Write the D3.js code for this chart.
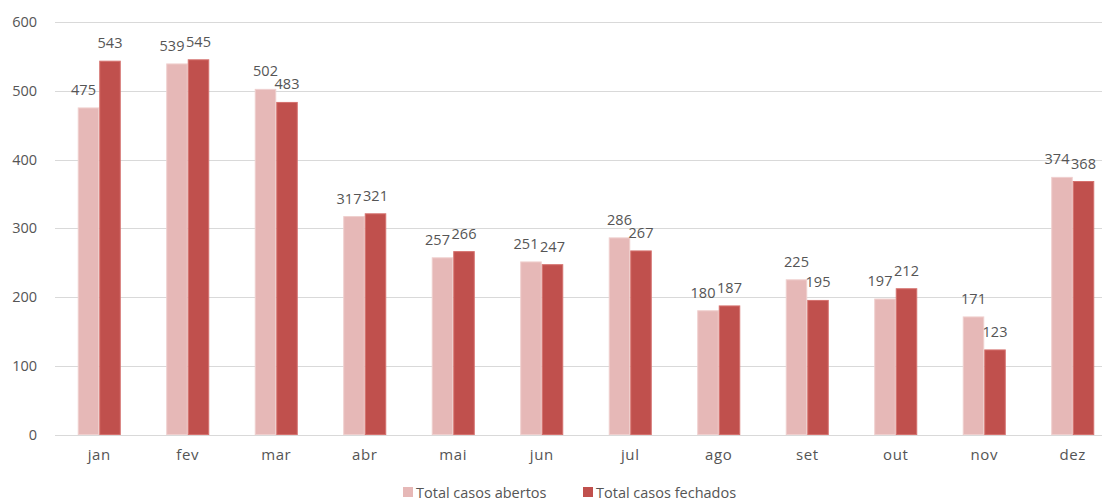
<!DOCTYPE html>
<html>
<head>
<meta charset="utf-8">
<script src="https://cdn.jsdelivr.net/npm/d3@7/dist/d3.min.js"></script>
<style>
  html, body { margin: 0; padding: 0; background: #fff; }
  svg { display: block; font-family: "Open Sans", Lato, sans-serif; }
</style>
</head>
<body>
<svg id="chart" width="1102" height="503"></svg>
<script>
// Monthly totals: cases opened vs. cases closed
const months = ["jan", "fev", "mar", "abr", "mai", "jun", "jul", "ago", "set", "out", "nov", "dez"];
const abertos = [475, 539, 502, 317, 257, 251, 286, 180, 225, 197, 171, 374];
const fechados = [543, 545, 483, 321, 266, 247, 267, 187, 195, 212, 123, 368];
const seriesNames = ["Total casos abertos", "Total casos fechados"];
const yTicks = [0, 100, 200, 300, 400, 500, 600];

const colors = ["#e6b8b7", "#c0504d"];
const strokes = ["#efcfce", "#d5716e"];
const textColor = "#555555";

const svg = d3.select("#chart");

const x = d3.scaleBand().domain(months).range([55, 1117])
  .paddingInner(0.514).paddingOuter(0.257);
const xs = d3.scaleBand().domain([0, 1]).range([0, x.bandwidth()]);
const y = d3.scaleLinear().domain([0, 600]).range([434.5, 22]);

// gridlines
svg.append("g")
  .selectAll("line")
  .data(yTicks)
  .join("line")
  .attr("x1", 55).attr("x2", 1102)
  .attr("y1", d => Math.round(y(d)) + 0.5)
  .attr("y2", d => Math.round(y(d)) + 0.5)
  .attr("stroke", "#d9d9d9")
  .attr("stroke-width", 1);

// y axis labels
svg.append("g")
  .selectAll("text")
  .data(yTicks)
  .join("text")
  .attr("x", 37)
  .attr("y", d => y(d) + 5)
  .attr("text-anchor", "end")
  .attr("font-size", 14.5)
  .attr("fill", textColor)
  .text(d => d);

// x axis labels
svg.append("g")
  .selectAll("text")
  .data(months)
  .join("text")
  .attr("x", d => x(d) + x.bandwidth() / 2)
  .attr("y", 460)
  .attr("text-anchor", "middle")
  .attr("font-size", 15)
  .attr("letter-spacing", 0.6)
  .attr("fill", textColor)
  .text(d => d);

const series = [abertos, fechados];

// bars
series.forEach((vals, si) => {
  svg.append("g")
    .selectAll("rect")
    .data(vals)
    .join("rect")
    .attr("x", (d, i) => x(months[i]) + xs(si) + 0.5)
    .attr("y", d => y(d))
    .attr("width", xs.bandwidth() - 1)
    .attr("height", d => y(0) - y(d))
    .attr("fill", colors[si])
    .attr("stroke", strokes[si])
    .attr("stroke-width", 1);
});

// value labels, nudged apart when a pair would collide
const labelGap = 13;
const labelH = 11;
const labels = svg.append("g")
  .attr("font-size", 14.5)
  .attr("fill", textColor)
  .attr("text-anchor", "middle");

months.forEach((m, i) => {
  const cA = x(m) + xs(0) + xs.bandwidth() / 2;
  const cB = x(m) + xs(1) + xs.bandwidth() / 2;
  const yA = y(abertos[i]) - labelGap;
  const yB = y(fechados[i]) - labelGap;
  let shiftA = 0;
  // labels on the same level overlap horizontally
  if (Math.abs(yA - yB) < labelH) shiftA = -5;
  // light label would run into the taller neighbour bar
  if (yA > y(fechados[i])) shiftA = -5;
  labels.append("text").attr("x", cA + shiftA).attr("y", yA).text(abertos[i]);
  labels.append("text").attr("x", cB).attr("y", yB).text(fechados[i]);
});

// legend
const legend = svg.append("g").attr("font-size", 14.5).attr("fill", textColor);
const legendX = [403, 583];
seriesNames.forEach((name, si) => {
  legend.append("rect")
    .attr("x", legendX[si]).attr("y", 487)
    .attr("width", 10).attr("height", 10)
    .attr("fill", colors[si]);
  legend.append("text")
    .attr("x", legendX[si] + 13).attr("y", 497.5)
    .text(name);
});
</script>
</body>
</html>
